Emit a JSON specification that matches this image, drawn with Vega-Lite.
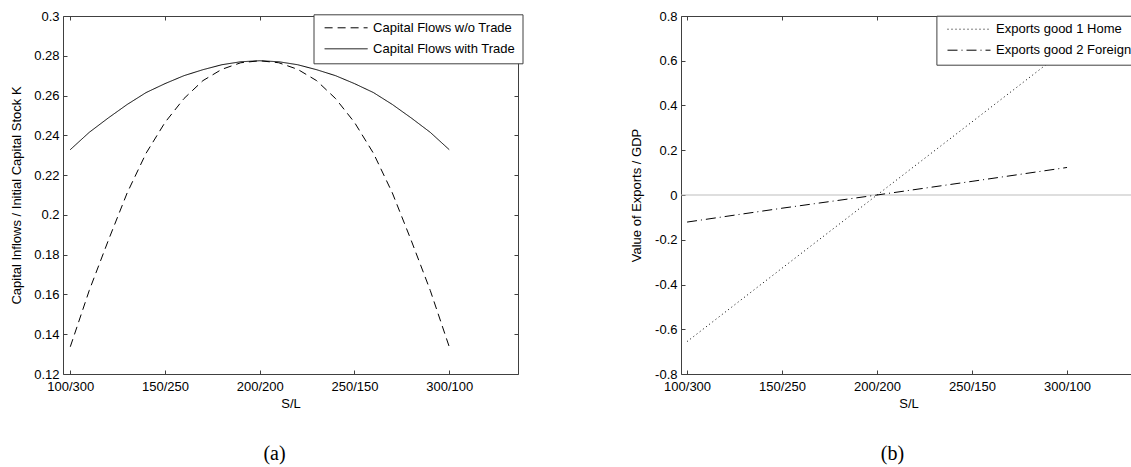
{
  "$schema": "https://vega.github.io/schema/vega-lite/v6.json",
  "autosize": {"type": "none"},
  "padding": {"left": 63, "top": 16, "right": 1068, "bottom": 451},
  "background": "white",
  "datasets": {
    "a": [
      {"S": 100, "value": 0.1337, "series": "Capital Flows w/o Trade"},
      {"S": 110, "value": 0.162, "series": "Capital Flows w/o Trade"},
      {"S": 120, "value": 0.187, "series": "Capital Flows w/o Trade"},
      {"S": 130, "value": 0.211, "series": "Capital Flows w/o Trade"},
      {"S": 140, "value": 0.231, "series": "Capital Flows w/o Trade"},
      {"S": 150, "value": 0.2465, "series": "Capital Flows w/o Trade"},
      {"S": 160, "value": 0.2585, "series": "Capital Flows w/o Trade"},
      {"S": 170, "value": 0.2675, "series": "Capital Flows w/o Trade"},
      {"S": 180, "value": 0.2732, "series": "Capital Flows w/o Trade"},
      {"S": 190, "value": 0.2765, "series": "Capital Flows w/o Trade"},
      {"S": 200, "value": 0.2775, "series": "Capital Flows w/o Trade"},
      {"S": 210, "value": 0.2765, "series": "Capital Flows w/o Trade"},
      {"S": 220, "value": 0.2732, "series": "Capital Flows w/o Trade"},
      {"S": 230, "value": 0.2675, "series": "Capital Flows w/o Trade"},
      {"S": 240, "value": 0.2585, "series": "Capital Flows w/o Trade"},
      {"S": 250, "value": 0.2465, "series": "Capital Flows w/o Trade"},
      {"S": 260, "value": 0.231, "series": "Capital Flows w/o Trade"},
      {"S": 270, "value": 0.211, "series": "Capital Flows w/o Trade"},
      {"S": 280, "value": 0.187, "series": "Capital Flows w/o Trade"},
      {"S": 290, "value": 0.162, "series": "Capital Flows w/o Trade"},
      {"S": 300, "value": 0.1337, "series": "Capital Flows w/o Trade"},
      {"S": 100, "value": 0.2328, "series": "Capital Flows with Trade"},
      {"S": 110, "value": 0.2415, "series": "Capital Flows with Trade"},
      {"S": 120, "value": 0.2487, "series": "Capital Flows with Trade"},
      {"S": 130, "value": 0.2555, "series": "Capital Flows with Trade"},
      {"S": 140, "value": 0.2615, "series": "Capital Flows with Trade"},
      {"S": 150, "value": 0.266, "series": "Capital Flows with Trade"},
      {"S": 160, "value": 0.27, "series": "Capital Flows with Trade"},
      {"S": 170, "value": 0.273, "series": "Capital Flows with Trade"},
      {"S": 180, "value": 0.2755, "series": "Capital Flows with Trade"},
      {"S": 190, "value": 0.277, "series": "Capital Flows with Trade"},
      {"S": 200, "value": 0.2775, "series": "Capital Flows with Trade"},
      {"S": 210, "value": 0.277, "series": "Capital Flows with Trade"},
      {"S": 220, "value": 0.2755, "series": "Capital Flows with Trade"},
      {"S": 230, "value": 0.273, "series": "Capital Flows with Trade"},
      {"S": 240, "value": 0.27, "series": "Capital Flows with Trade"},
      {"S": 250, "value": 0.266, "series": "Capital Flows with Trade"},
      {"S": 260, "value": 0.2615, "series": "Capital Flows with Trade"},
      {"S": 270, "value": 0.2555, "series": "Capital Flows with Trade"},
      {"S": 280, "value": 0.2487, "series": "Capital Flows with Trade"},
      {"S": 290, "value": 0.2415, "series": "Capital Flows with Trade"},
      {"S": 300, "value": 0.2328, "series": "Capital Flows with Trade"}
    ],
    "b": [
      {"S": 100, "value": -0.655, "series": "Exports good 1 Home"},
      {"S": 150, "value": -0.327, "series": "Exports good 1 Home"},
      {"S": 200, "value": 0, "series": "Exports good 1 Home"},
      {"S": 250, "value": 0.327, "series": "Exports good 1 Home"},
      {"S": 300, "value": 0.655, "series": "Exports good 1 Home"},
      {"S": 100, "value": -0.121, "series": "Exports good 2 Foreign"},
      {"S": 150, "value": -0.059, "series": "Exports good 2 Foreign"},
      {"S": 200, "value": 0, "series": "Exports good 2 Foreign"},
      {"S": 250, "value": 0.061, "series": "Exports good 2 Foreign"},
      {"S": 300, "value": 0.123, "series": "Exports good 2 Foreign"}
    ],
    "zero": [{"value": 0}]
  },
  "spacing": 163,
  "bounds": "flush",
  "hconcat": [
    {
      "width": 455,
      "height": 358,
      "title": {"text": "(a)", "orient": "bottom", "anchor": "middle", "font": "Liberation Serif", "fontSize": 20, "fontWeight": "normal", "color": "black", "offset": 34, "dx": -16},
      "layer": [
        {
          "data": {"name": "a"},
          "mark": {"type": "line", "color": "black", "strokeWidth": 1},
          "encoding": {
            "x": {"field": "S", "type": "quantitative", "scale": {"domain": [96.15, 336.3], "nice": false, "zero": false},
                  "axis": {"orient": "bottom", "values": [100, 150, 200, 250, 300], "labelExpr": "datum.value + '/' + (400 - datum.value)", "title": "S/L", "labelPadding": 10}},
            "y": {"field": "value", "type": "quantitative", "scale": {"domain": [0.12, 0.3], "nice": false, "zero": false},
                  "axis": {"orient": "left", "values": [0.12, 0.14, 0.16, 0.18, 0.2, 0.22, 0.24, 0.26, 0.28, 0.3], "labelExpr": "format(datum.value, '.2~f')", "title": "Capital Inflows / Initial Capital Stock K", "titlePadding": 10}},
            "strokeDash": {"field": "series", "type": "nominal",
                  "scale": {"domain": ["Capital Flows w/o Trade", "Capital Flows with Trade"], "range": [[8, 5], [1, 0]]},
                  "legend": {"title": null, "orient": "none", "legendX": 250.5, "legendY": -1.7}}
          }
        },
        {
          "data": {"name": "a"},
          "mark": {"type": "line", "strokeOpacity": 0},
          "encoding": {
            "x": {"field": "S", "type": "quantitative", "axis": {"orient": "top", "values": [100, 150, 200, 250, 300], "labels": false, "title": null}},
            "y": {"field": "value", "type": "quantitative", "axis": {"orient": "right", "values": [0.12, 0.14, 0.16, 0.18, 0.2, 0.22, 0.24, 0.26, 0.28, 0.3], "labels": false, "title": null}},
            "detail": {"field": "series"}
          }
        }
      ],
      "resolve": {"axis": {"x": "independent", "y": "independent"}}
    },
    {
      "width": 455,
      "height": 358,
      "title": {"text": "(b)", "orient": "bottom", "anchor": "middle", "font": "Liberation Serif", "fontSize": 20, "fontWeight": "normal", "color": "black", "offset": 34, "dx": -16},
      "layer": [
        {
          "data": {"name": "zero"},
          "mark": {"type": "rule", "color": "#bdbdbd", "strokeWidth": 1},
          "encoding": {
            "y": {"field": "value", "type": "quantitative", "scale": {"domain": [-0.8, 0.8], "nice": false, "zero": false},
                  "axis": {"orient": "left", "values": [-0.8, -0.6, -0.4, -0.2, 0, 0.2, 0.4, 0.6, 0.8], "labelExpr": "replace(format(datum.value, '.1~f'), '\u2212', '-')", "title": "Value of Exports / GDP", "titlePadding": 11}}
          }
        },
        {
          "data": {"name": "b"},
          "mark": {"type": "line", "color": "black", "strokeWidth": 1},
          "encoding": {
            "x": {"field": "S", "type": "quantitative", "scale": {"domain": [96.8, 336.3], "nice": false, "zero": false},
                  "axis": {"orient": "bottom", "values": [100, 150, 200, 250, 300], "labelExpr": "datum.value + '/' + (400 - datum.value)", "title": "S/L", "labelPadding": 10}},
            "y": {"field": "value", "type": "quantitative", "axis": null},
            "strokeDash": {"field": "series", "type": "nominal",
                  "scale": {"domain": ["Exports good 1 Home", "Exports good 2 Foreign"], "range": [[1, 3], [10, 4, 1, 4]]},
                  "legend": {"title": null, "orient": "none", "legendX": 255.4, "legendY": -0.3}}
          }
        },
        {
          "data": {"name": "b"},
          "mark": {"type": "line", "strokeOpacity": 0},
          "encoding": {
            "x": {"field": "S", "type": "quantitative", "axis": {"orient": "top", "values": [100, 150, 200, 250, 300], "labels": false, "title": null}},
            "y": {"field": "value", "type": "quantitative", "axis": {"orient": "right", "values": [-0.8, -0.6, -0.4, -0.2, 0, 0.2, 0.4, 0.6, 0.8], "labels": false, "title": null}},
            "detail": {"field": "series"}
          }
        }
      ],
      "resolve": {"axis": {"x": "independent", "y": "independent"}}
    }
  ],
  "resolve": {
    "scale": {"x": "independent", "y": "independent", "strokeDash": "independent"},
    "legend": {"strokeDash": "independent"}
  },
  "config": {
    "view": {"stroke": "#404040", "strokeWidth": 1},
    "axis": {
      "grid": false, "domain": false, "tickColor": "#404040", "tickSize": -4, "labelPadding": 8,
      "labelFont": "Liberation Sans", "labelFontSize": 13, "labelColor": "black",
      "titleFont": "Liberation Sans", "titleFontSize": 13, "titleFontWeight": "normal", "titleColor": "black",
      "labelOverlap": false, "labelFlush": false, "labelBound": false
    },
    "legend": {
      "symbolType": "M-0.6,0H10.15", "symbolSize": 64, "symbolStrokeWidth": 1, "symbolStrokeColor": "black",
      "fillColor": "white", "strokeColor": "#404040", "padding": 7, "rowPadding": 7, "cornerRadius": 0,
      "labelFont": "Liberation Sans", "labelFontSize": 13, "labelColor": "black", "labelOffset": 39.6
    }
  }
}
